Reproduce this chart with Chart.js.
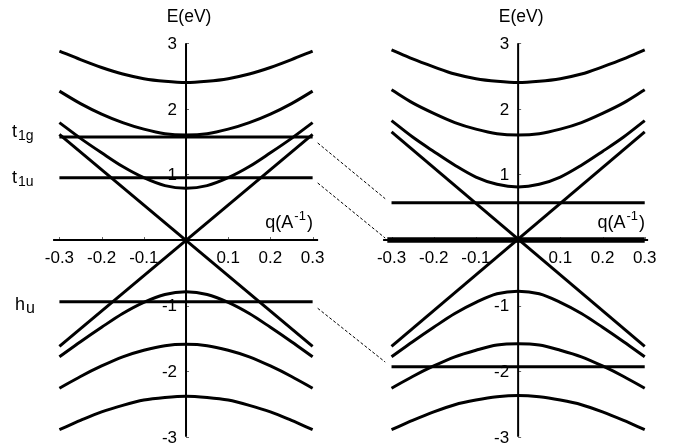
<!DOCTYPE html>
<html>
<head>
<meta charset="utf-8">
<script src="https://cdn.jsdelivr.net/npm/chart.js@4.4.1/dist/chart.umd.min.js"></script>
<style>
  html, body { margin: 0; padding: 0; background: #ffffff; }
  #wrap { width: 673px; height: 447px; position: relative; }
</style>
</head>
<body>
<div id="wrap"><canvas id="bands" width="673" height="447"></canvas></div>
<script>
// Momentum grid (1/Å) on which the dispersive bands are sampled
const qGrid = [-0.30, -0.25, -0.20, -0.15, -0.10, -0.05, 0.00, 0.05, 0.10, 0.15, 0.20, 0.25, 0.30];

// Left panel: dispersive bands, energy in eV
const leftUpper3 = [2.88, 2.75, 2.63, 2.53, 2.46, 2.42, 2.40, 2.42, 2.46, 2.53, 2.63, 2.75, 2.88];
const leftUpper2 = [2.27, 2.08, 1.92, 1.79, 1.69, 1.62, 1.60, 1.62, 1.69, 1.79, 1.92, 2.08, 2.27];
const leftUpper1 = [1.79, 1.55, 1.33, 1.12, 0.95, 0.83, 0.79, 0.83, 0.95, 1.12, 1.33, 1.55, 1.79];
const leftLower1 = [-1.78, -1.55, -1.33, -1.12, -0.95, -0.83, -0.79, -0.83, -0.95, -1.12, -1.33, -1.55, -1.78];
const leftLower2 = [-2.26, -2.08, -1.92, -1.78, -1.68, -1.61, -1.59, -1.61, -1.68, -1.78, -1.92, -2.08, -2.26];
const leftLower3 = [-2.89, -2.75, -2.62, -2.52, -2.44, -2.40, -2.38, -2.40, -2.44, -2.52, -2.62, -2.75, -2.89];
// Linear branches through q = 0: energy at q = -0.3 and q = +0.3
const leftCone = [[1.61, -1.62], [-1.62, 1.61]];
// Flat levels t1g, t1u, hu
const leftFlat = [1.57, 0.95, -0.94];
const leftFlatNames = [['t', '1g'], ['t', '1u'], ['h', 'u']];

// Right panel: dispersive bands, energy in eV
const rightUpper3 = [2.90, 2.76, 2.64, 2.53, 2.46, 2.42, 2.40, 2.42, 2.46, 2.53, 2.64, 2.76, 2.90];
const rightUpper2 = [2.29, 2.09, 1.93, 1.79, 1.69, 1.62, 1.60, 1.62, 1.69, 1.79, 1.93, 2.09, 2.29];
const rightUpper1 = [1.82, 1.57, 1.35, 1.14, 0.96, 0.85, 0.81, 0.85, 0.96, 1.14, 1.35, 1.57, 1.82];
const rightLower1 = [-1.78, -1.55, -1.33, -1.12, -0.95, -0.82, -0.78, -0.82, -0.95, -1.12, -1.33, -1.55, -1.78];
const rightLower2 = [-2.26, -2.08, -1.92, -1.78, -1.68, -1.60, -1.58, -1.60, -1.68, -1.78, -1.92, -2.08, -2.26];
const rightLower3 = [-2.89, -2.75, -2.62, -2.51, -2.44, -2.39, -2.37, -2.39, -2.44, -2.51, -2.62, -2.75, -2.89];
const rightCone = [[1.65, -1.62], [-1.62, 1.65]];
// Flat levels after the shift (the middle one sits on E = 0)
const rightFlat = [0.57, 0.00, -1.93];

// Dashed connectors between flat levels: [E at left end, E at right end]
const connectorE = [[1.48, 0.63], [0.87, 0.03], [-1.04, -1.86]];
// q of connector ends: left-panel q, right-panel q
const connectorQ = [0.312, -0.315];

// Axis ticks
const qTicks = [-0.3, -0.2, -0.1, 0.1, 0.2, 0.3];
const eTicks = [3, 2, 1, -1, -2, -3];

// ---- layout of the two panels on one shared linear x scale ----
const PANEL_SHIFT = 0.787;            // x offset of the right panel's q = 0
const FONT = '"Liberation Sans", Arial, Helvetica, sans-serif';

function pts(qs, Es, panel) {
  return qs.map((q, i) => ({ x: q + panel * PANEL_SHIFT, y: Es[i] }));
}

function bandSet(Es, panel) {
  return {
    data: pts(qGrid, Es, panel),
    borderColor: '#000', borderWidth: 3, pointRadius: 0,
    cubicInterpolationMode: 'monotone', fill: false
  };
}

function straight(q0, q1, e0, e1, panel, width, dash) {
  return {
    data: pts([q0, q1], [e0, e1], panel),
    borderColor: '#000', borderWidth: width, pointRadius: 0,
    borderDash: dash || [], tension: 0, fill: false
  };
}

const datasets = [];
// axes drawn as line marks (limited extent)
datasets.push(straight(0, 0, -3.0, 3.0, 0, 2));
datasets.push(straight(0, 0, -3.0, 3.0, 1, 2));
datasets.push(straight(-0.315, 0.313, 0, 0, 0, 2));
datasets.push(straight(-0.32, 0.308, 0, 0, 1, 2));

[leftUpper3, leftUpper2, leftUpper1, leftLower1, leftLower2, leftLower3]
  .forEach(b => datasets.push(bandSet(b, 0)));
[rightUpper3, rightUpper2, rightUpper1, rightLower1, rightLower2, rightLower3]
  .forEach(b => datasets.push(bandSet(b, 1)));

leftCone.forEach(c => datasets.push(straight(-0.3, 0.3, c[0], c[1], 0, 3)));
rightCone.forEach(c => datasets.push(straight(-0.3, 0.3, c[0], c[1], 1, 3)));

leftFlat.forEach(e => datasets.push(straight(-0.3, 0.3, e, e, 0, 3)));
rightFlat.forEach(e => datasets.push(straight(e === 0 ? -0.31 : -0.3, 0.3, e, e, 1, e === 0 ? 5.5 : 3)));

// connectors span both panels: left point in panel 0, right point in panel 1
connectorE.forEach(c => {
  datasets.push({
    data: [
      { x: connectorQ[0], y: c[0] },
      { x: connectorQ[1] + PANEL_SHIFT, y: c[1] }
    ],
    borderColor: '#000', borderWidth: 1, pointRadius: 0,
    borderDash: [3, 2], tension: 0, fill: false
  });
});

// Tick labels, tick marks, axis titles and level names
const annotate = {
  id: 'annotate',
  beforeDatasetsDraw(chart) {
    const ctx = chart.ctx;
    const xs = chart.scales.x, ys = chart.scales.y;
    const px = (q, p) => xs.getPixelForValue(q + p * PANEL_SHIFT);
    const py = e => ys.getPixelForValue(e);
    ctx.save();
    ctx.fillStyle = '#000';
    for (let p = 0; p < 2; p++) {
      const ax = px(0, p), ay = py(0);
      // tick marks
      ctx.strokeStyle = '#666';
      ctx.lineWidth = 1;
      ctx.beginPath();
      eTicks.forEach(e => { const y = Math.round(py(e)) + 0.5; ctx.moveTo(ax, y); ctx.lineTo(ax + 3, y); });
      qTicks.forEach(q => { const x = Math.round(px(q, p)) + 0.5; ctx.moveTo(x, ay); ctx.lineTo(x, ay - 3); });
      ctx.stroke();
      // energy tick labels
      ctx.font = '17px ' + FONT;
      ctx.textAlign = 'right';
      ctx.textBaseline = 'middle';
      eTicks.forEach(e => ctx.fillText(String(e), ax - 9, py(e) + 1));
      // momentum tick labels
      ctx.textAlign = 'center';
      qTicks.forEach(q => ctx.fillText(q.toFixed(1), px(q, p), ay + 18));
      // axis titles
      ctx.textBaseline = 'alphabetic';
      ctx.font = '17.5px ' + FONT;
      ctx.fillText('E(eV)', ax + 3, py(3) - 21);
      ctx.textAlign = 'left';
      let x = px(0.188, p);
      const yb = ay - 12;
      ctx.font = '18px ' + FONT;
      ctx.fillText('q(A', x, yb);
      x += ctx.measureText('q(A').width + 1;
      ctx.font = '13px ' + FONT;
      ctx.fillText('-1', x, yb - 8);
      x += ctx.measureText('-1').width + 1;
      ctx.font = '18px ' + FONT;
      ctx.fillText(')', x, yb);
    }
    // names of the flat levels in the left panel
    const nameShift = [0, 5.5, 8.5];
    const nameLeft = [12, 12, 15];
    leftFlatNames.forEach((n, i) => {
      const yb = py(leftFlat[i]) + nameShift[i];
      ctx.textAlign = 'left';
      ctx.font = '18px ' + FONT;
      ctx.fillText(n[0], nameLeft[i], yb);
      const w = ctx.measureText(n[0]).width;
      ctx.font = (n[1] === 'u' ? '16px ' : '14px ') + FONT;
      ctx.fillText(n[1], nameLeft[i] + w + 1, yb + 3);
    });
    ctx.restore();
  }
};

new Chart(document.getElementById('bands'), {
  type: 'line',
  data: { datasets },
  options: {
    responsive: false,
    animation: false,
    devicePixelRatio: 1,
    layout: { padding: 0 },
    parsing: false,
    plugins: { legend: { display: false }, tooltip: { enabled: false } },
    scales: {
      x: { type: 'linear', display: false, min: -0.4408, max: 1.154 },
      y: { type: 'linear', display: false, min: -3.155, max: 3.659 }
    },
    elements: { line: { borderCapStyle: 'butt', borderJoinStyle: 'round' } }
  },
  plugins: [annotate]
});
</script>
</body>
</html>
